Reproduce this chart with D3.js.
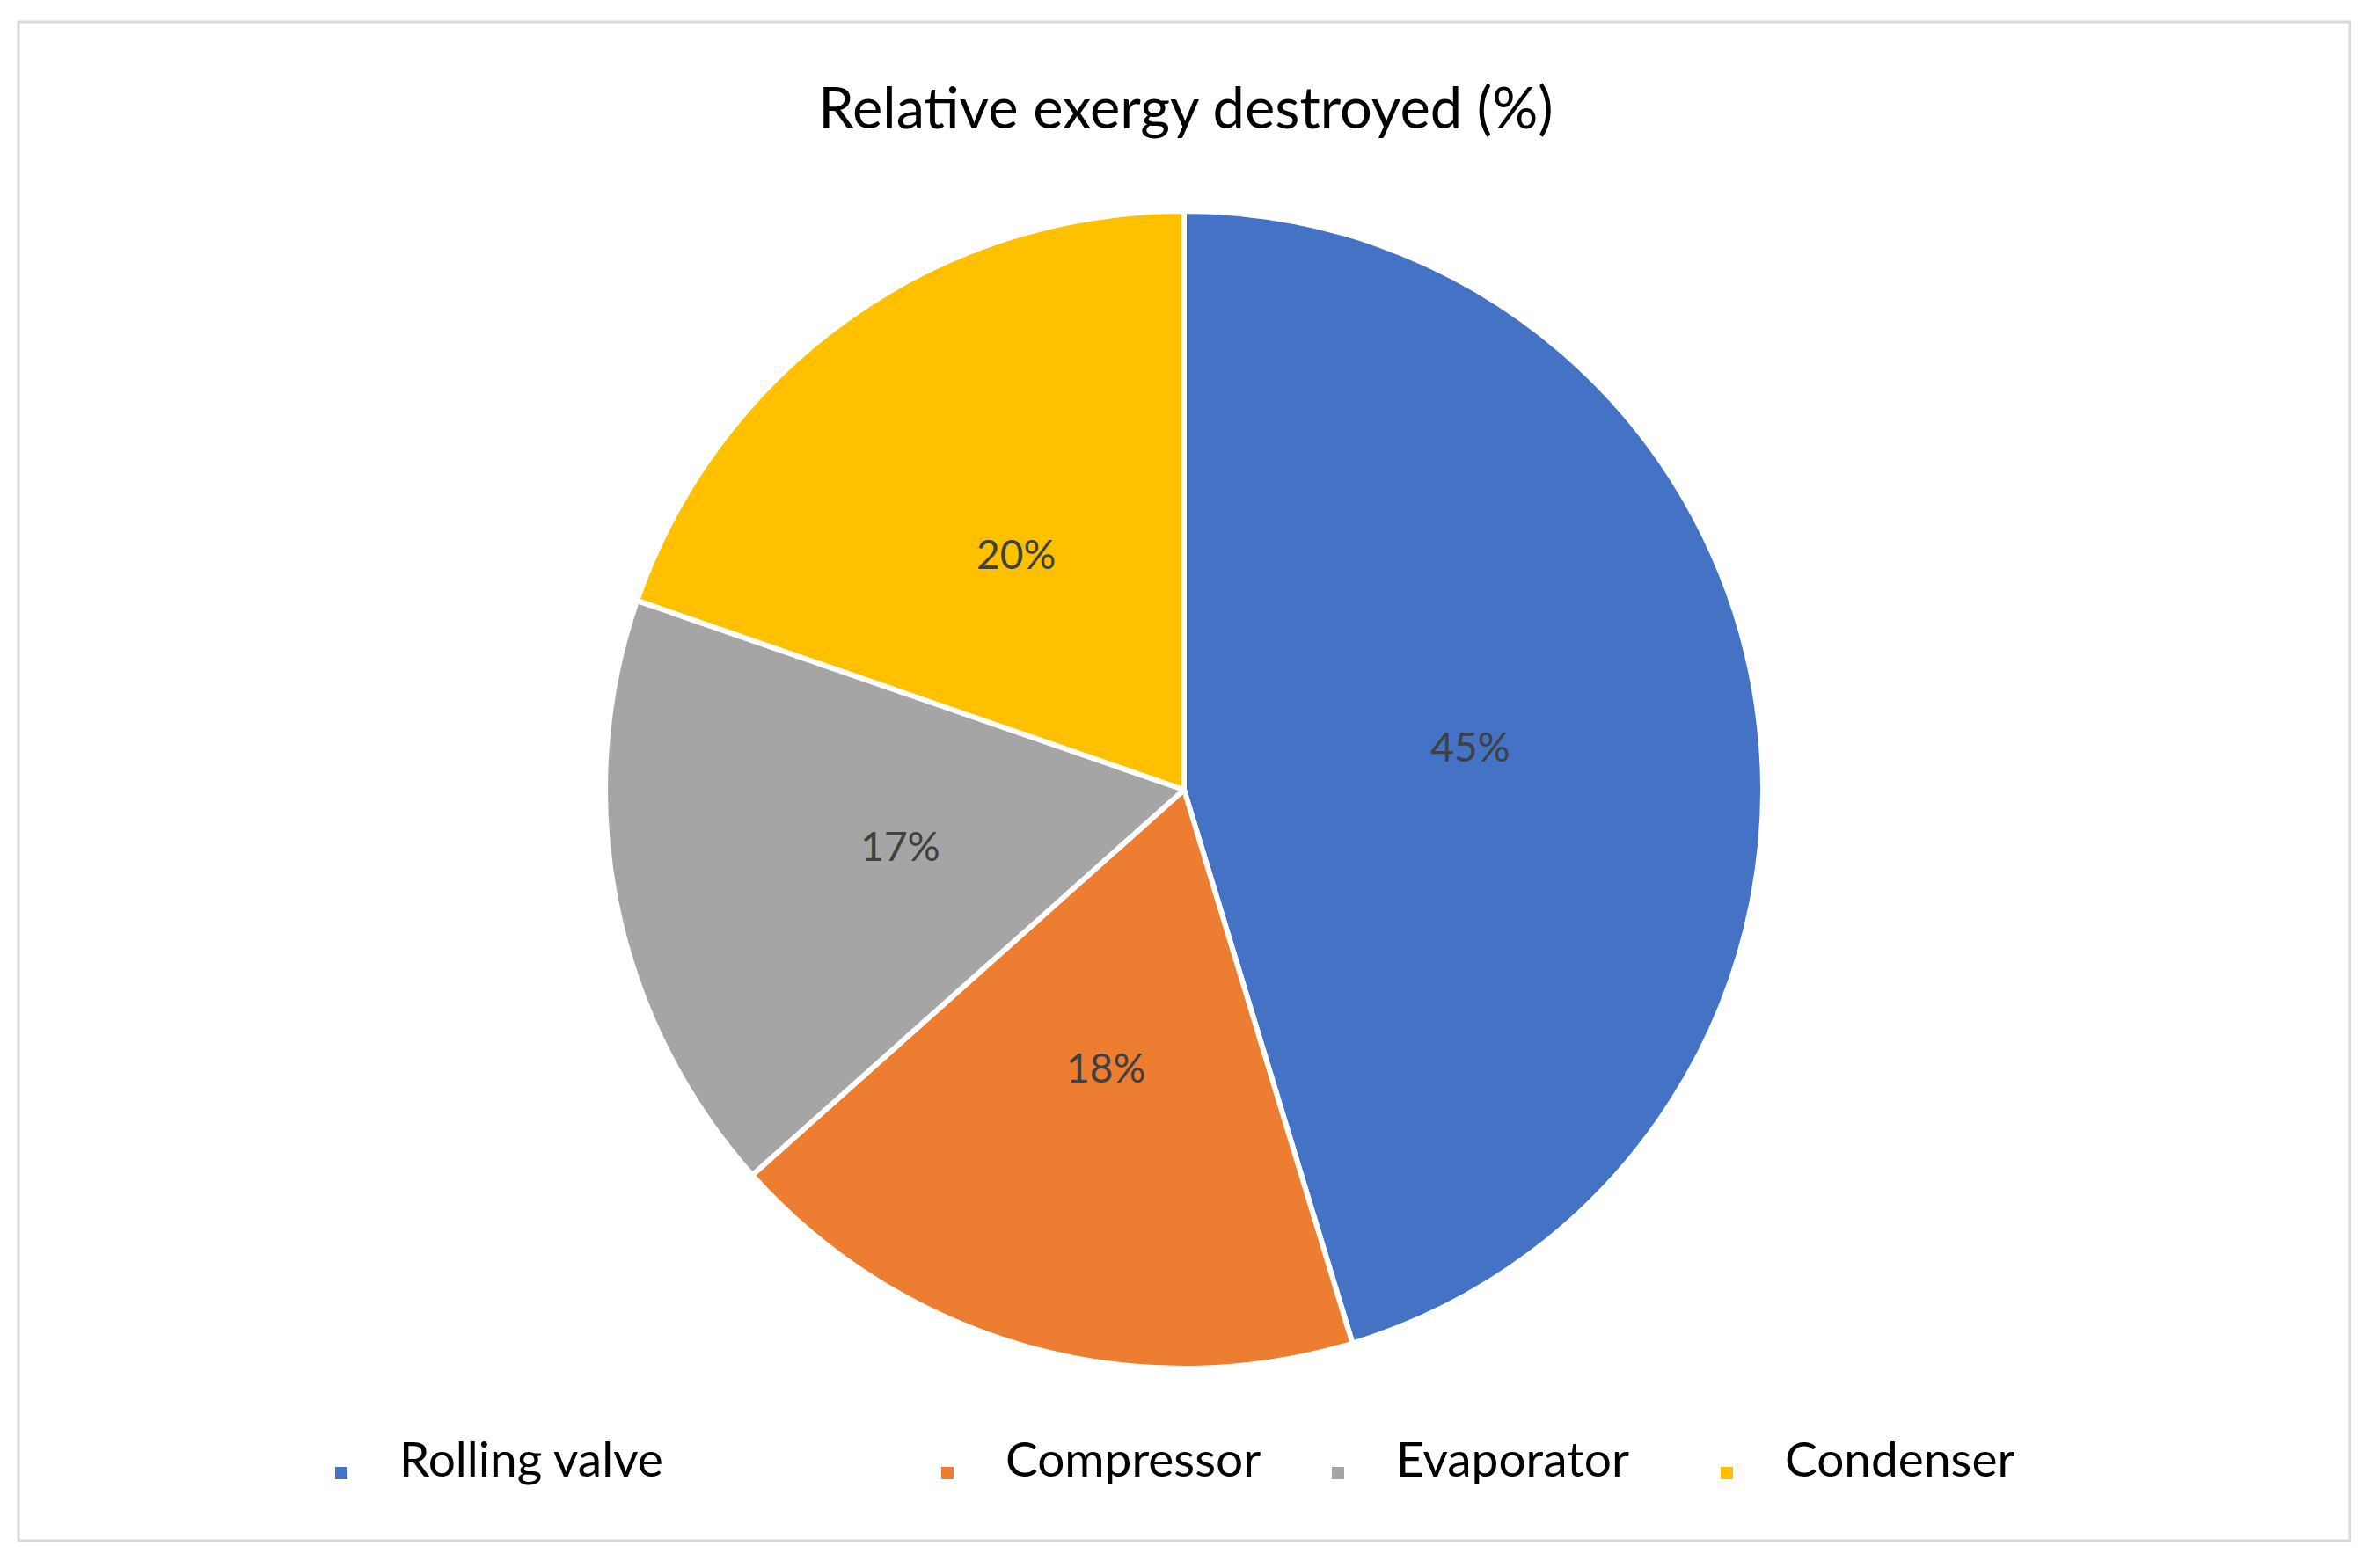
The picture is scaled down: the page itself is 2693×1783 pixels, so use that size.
<!DOCTYPE html>
<html>
<head>
<meta charset="utf-8">
<script src="https://cdn.jsdelivr.net/npm/d3@7"></script>
<style>
  html, body { margin: 0; padding: 0; background: #ffffff; }
  svg { display: block; }
</style>
</head>
<body>
<svg id="chart" width="2693" height="1783"></svg>
<script>
// ---- data ----
const categories = ["Rolling valve", "Compressor", "Evaporator", "Condenser"];
const values = [45.3, 18.1, 16.9, 19.7];
const labels = ["45%", "18%", "17%", "20%"];
const colors = ["#4472C4", "#ED7D31", "#A5A5A5", "#FFC000"];
const title = "Relative exergy destroyed (%)";

// ---- layout ----
const W = 2693, H = 1783;
const cx = 1346, cy = 898, R = 658;
const legendMarkerX = [388, 1077, 1521, 1963];
const legendY = 1675;
const FONT = "Lato, Carlito, Calibri, 'Open Sans', sans-serif";

const svg = d3.select("#chart");

// chart frame
svg.append("rect")
  .attr("x", 21).attr("y", 25)
  .attr("width", 2650).attr("height", 1727)
  .attr("fill", "#ffffff")
  .attr("stroke", "#d9d9d9")
  .attr("stroke-width", 3);

// title
svg.append("text")
  .attr("x", 1348).attr("y", 146)
  .attr("text-anchor", "middle")
  .attr("font-family", FONT)
  .attr("font-size", 65)
  .attr("fill", "#000000")
  .text(title);

// pie
const data = categories.map((c, i) => ({ name: c, value: values[i], label: labels[i], color: colors[i] }));
const pie = d3.pie().value(d => d.value).sort(null);
const arcs = pie(data);
const arc = d3.arc().innerRadius(0).outerRadius(R);

const g = svg.append("g").attr("transform", `translate(${cx},${cy})`);
g.selectAll("path.slice")
  .data(arcs)
  .join("path")
  .attr("class", "slice")
  .attr("d", arc)
  .attr("fill", d => d.data.color)
  .attr("stroke", "#ffffff")
  .attr("stroke-width", 6)
  .attr("stroke-linejoin", "round");

g.selectAll("text.lbl")
  .data(arcs)
  .join("text")
  .attr("class", "lbl")
  .attr("transform", d => `translate(${arc.centroid(d)})`)
  .attr("text-anchor", "middle")
  .attr("dy", "0.36em")
  .attr("font-family", FONT)
  .attr("font-size", 46)
  .attr("fill", "#404040")
  .text(d => d.data.label);

// legend
const lg = svg.append("g");
const items = lg.selectAll("g.item")
  .data(data)
  .join("g")
  .attr("class", "item")
  .attr("transform", (d, i) => `translate(${legendMarkerX[i]},${legendY})`);
items.append("rect")
  .attr("x", -7).attr("y", -7)
  .attr("width", 14).attr("height", 14)
  .attr("fill", d => d.color);
items.append("text")
  .attr("x", 66).attr("y", 4)
  .attr("font-family", FONT)
  .attr("font-size", 55)
  .attr("fill", "#000000")
  .text(d => d.name);
</script>
</body>
</html>
